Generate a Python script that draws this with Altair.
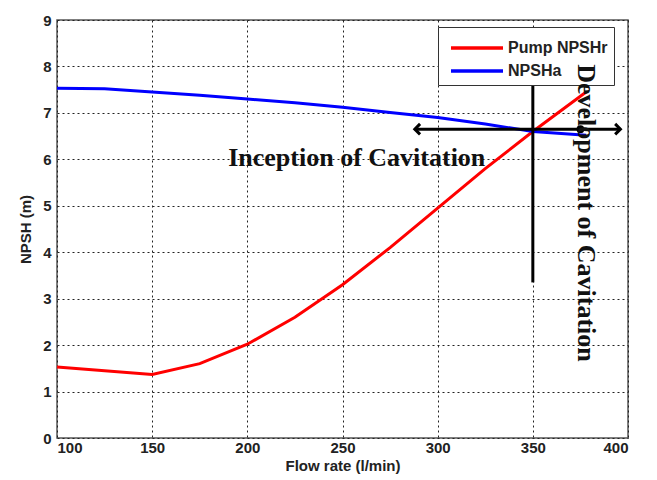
import altair as alt
import pandas as pd

# Data
red_x = [100, 150, 175, 200, 225, 250, 275, 300, 325, 350, 378]
red_y = [1.53, 1.37, 1.60, 2.02, 2.60, 3.30, 4.10, 4.95, 5.80, 6.60, 7.45]
blue_x = [100, 125, 150, 175, 200, 225, 250, 275, 300, 325, 350, 378]
blue_y = [7.53, 7.52, 7.45, 7.38, 7.30, 7.22, 7.12, 7.01, 6.90, 6.76, 6.60, 6.52]
series_names = ["Pump NPSHr", "NPSHa"]
series_colors = ["#ff0000", "#0000ff"]

# Annotation geometry (data units)
harrow_x = [288, 396]
harrow_y = 6.65
vline_x = 350
vline_y = [3.35, 7.6]
dot_x = [375]
dot_y = [6.65]
texts = ["Inception of Cavitation", "Development of Cavitation"]
text_x = [257.5]
text_y = [6.03]

rows = []
for x, y in zip(red_x, red_y):
    rows.append({"flow": x, "npsh": y, "series": series_names[0]})
for x, y in zip(blue_x, blue_y):
    rows.append({"flow": x, "npsh": y, "series": series_names[1]})
df = pd.DataFrame(rows)

xscale = alt.Scale(domain=[100, 400], nice=False, zero=False)
yscale = alt.Scale(domain=[0, 9], nice=False)

xaxis = alt.Axis(values=[100, 150, 200, 250, 300, 350, 400], title="Flow rate (l/min)",
                 grid=True, gridDash=[2, 3], gridColor="#222", gridOpacity=1,
                 ticks=False, domain=False,
                 labelFont="Arial", labelFontWeight="bold", labelFontSize=15, labelColor="#222",
                 labelPadding=2, titleFont="Arial", titleFontWeight="bold", titleFontSize=15,
                 titleColor="#222", titlePadding=3)
yaxis = alt.Axis(values=list(range(10)), title="NPSH (m)", grid=True, gridDash=[2, 3],
                 gridColor="#222", gridOpacity=1, ticks=False, domain=False,
                 labelFont="Arial", labelFontWeight="bold", labelFontSize=15, labelColor="#222",
                 labelPadding=6, titleFont="Arial", titleFontWeight="bold", titleFontSize=15,
                 titleColor="#222", titlePadding=9)

lines = alt.Chart(df).mark_line(strokeWidth=3).encode(
    x=alt.X("flow:Q", scale=xscale, axis=xaxis),
    y=alt.Y("npsh:Q", scale=yscale, axis=yaxis),
    color=alt.Color("series:N", scale=alt.Scale(domain=series_names, range=series_colors),
                    sort=series_names,
                    legend=alt.Legend(title=None, orient="none", legendX=381, legendY=7,
                                      symbolType="M -2 0 L 2 0", symbolSize=676,
                                      symbolStrokeWidth=3.5,
                                      labelFont="Arial", labelFontWeight="bold", labelFontSize=16,
                                      labelColor="#222", strokeColor="#333", fillColor="white",
                                      padding=6, rowPadding=-4, symbolOffset=18, labelOffset=16,
                                      labelLimit=300)),
    detail="series:N",
)

hdf = pd.DataFrame({"x": [harrow_x[0]], "x2": [harrow_x[1]], "y": [harrow_y]})
hline = alt.Chart(hdf).mark_rule(strokeWidth=3, color="black").encode(
    x=alt.X("x:Q", scale=xscale), x2="x2:Q", y=alt.Y("y:Q", scale=yscale))

vdf = pd.DataFrame({"x": [vline_x], "y": [vline_y[0]], "y2": [vline_y[1]]})
vline = alt.Chart(vdf).mark_rule(strokeWidth=3, color="black").encode(
    x=alt.X("x:Q", scale=xscale), y=alt.Y("y:Q", scale=yscale), y2="y2:Q")

ldf = pd.DataFrame({"x": [harrow_x[0]], "y": [harrow_y]})
left_head = alt.Chart(ldf).mark_point(shape="M 1 -1 L 0 0 L 1 1", filled=False, stroke="black",
                                      strokeWidth=3, size=110, opacity=1).encode(
    x=alt.X("x:Q", scale=xscale), y=alt.Y("y:Q", scale=yscale))
rdf = pd.DataFrame({"x": [harrow_x[1]], "y": [harrow_y]})
right_head = alt.Chart(rdf).mark_point(shape="M -1 -1 L 0 0 L -1 1", filled=False, stroke="black",
                                       strokeWidth=3, size=110, opacity=1).encode(
    x=alt.X("x:Q", scale=xscale), y=alt.Y("y:Q", scale=yscale))

ddf = pd.DataFrame({"x": dot_x, "y": dot_y})
dot = alt.Chart(ddf).mark_circle(size=60, color="black", opacity=1).encode(
    x=alt.X("x:Q", scale=xscale), y=alt.Y("y:Q", scale=yscale))

tdf = pd.DataFrame({"t": texts[:1], "x": text_x, "y": text_y})
txt1 = alt.Chart(tdf).mark_text(font="Liberation Serif", fontWeight="bold", fontSize=26,
                                color="#111", align="center", baseline="middle").encode(
    x=alt.X("x:Q", scale=xscale), y=alt.Y("y:Q", scale=yscale), text="t:N")

# The vertical annotation is drawn as a title so that it sits above the legend box
dev_title = alt.TitleParams(text=texts[1], orient="right", anchor="middle", angle=90,
                            baseline="middle", font="Liberation Serif", fontWeight="bold",
                            fontSize=26, color="#111", offset=-68, dx=-16)

chart = alt.layer(lines, hline, vline, left_head, right_head, dot, txt1).properties(
    width=571, height=418,
    title=dev_title,
    autosize=alt.AutoSizeParams(type="none"),
    padding={"left": 57, "top": 20, "right": 29, "bottom": 42},
    background="white",
).configure_view(stroke="#555", strokeWidth=1.5)

chart.save("out.html", embed_options={"renderer": "svg", "actions": False})
